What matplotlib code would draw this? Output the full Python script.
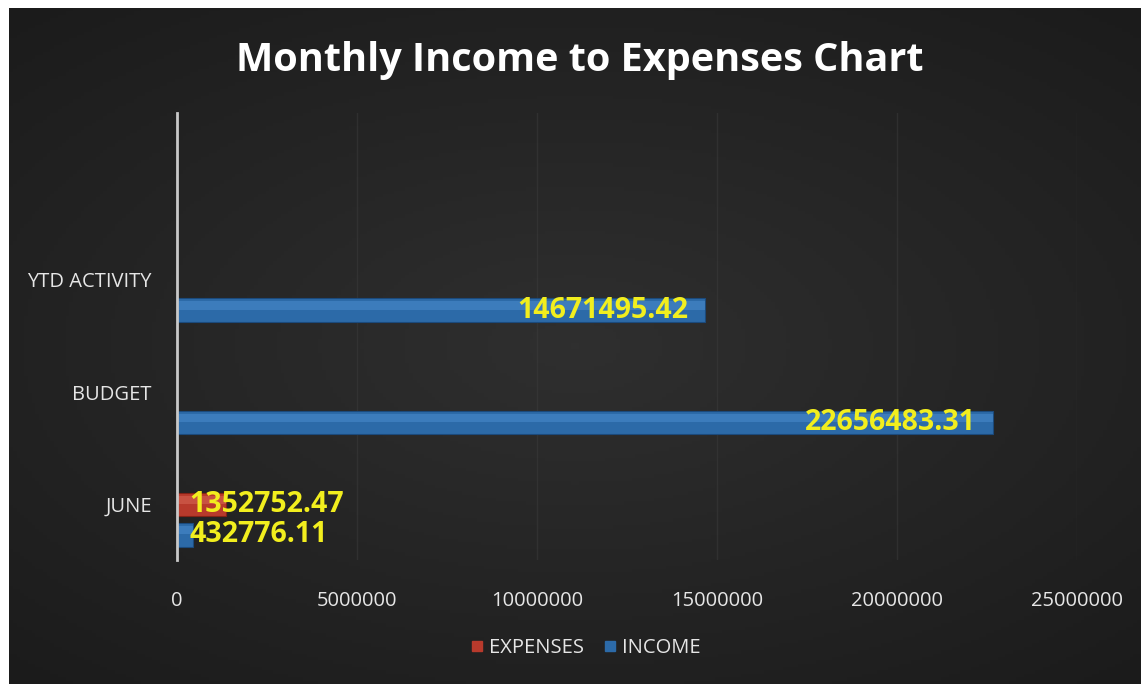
import numpy as np
import matplotlib
matplotlib.use("Agg")
import matplotlib.pyplot as plt
from matplotlib.lines import Line2D

categories = ["JUNE", "BUDGET", "YTD ACTIVITY"]
expenses = [1352752.47, 0, 0]
income = [432776.11, 22656483.31, 14671495.42]
xticks = [0, 5000000, 10000000, 15000000, 20000000, 25000000]
title = "Monthly Income to Expenses Chart"

FONT = ["Open Sans", "DejaVu Sans"]
plt.rcParams["font.family"] = FONT

fig = plt.figure(figsize=(11.41, 6.84), dpi=100, facecolor="white")

# dark background panel with soft radial vignette
bg = fig.add_axes([9/1141, 0, 1 - 9/1141, 1 - 8/684])
bg.set_axis_off()
yy, xx = np.mgrid[-1:1:200j, -1:1:300j]
r = np.sqrt((xx * 0.9) ** 2 + (yy * 1.0) ** 2)
grad = np.clip(1 - 0.45 * r, 0, 1)
bg.imshow(grad, cmap=matplotlib.colors.LinearSegmentedColormap.from_list(
    "bgc", ["#181818", "#2f2f2f"]), vmin=0.3, vmax=1.0, aspect="auto",
    extent=[0, 1, 0, 1])
bg.set_xlim(0, 1)
bg.set_ylim(0, 1)

ax = fig.add_axes([177/1141, 124/684, 900/1141, 447/684])
ax.patch.set_alpha(0)

pos = np.arange(len(categories))
off = 0.135
h = 0.21

inc_col = "#2c6aa8"
exp_col = "#b83a2c"

ax.barh(pos - off, income, height=h, color=inc_col, edgecolor="#1b4a7c", linewidth=0.8, zorder=3)
ax.barh(pos - off + h * 0.2, income, height=h * 0.35, color="#4d8fd0", alpha=0.5, linewidth=0, zorder=4)
ax.barh(pos + off, expenses, height=h, color=exp_col, edgecolor="#822216", linewidth=0.8, zorder=3)
ax.barh(pos + off + h * 0.2, expenses, height=h * 0.35, color="#d96a58", alpha=0.5, linewidth=0, zorder=4)

lab_kw = dict(color="#f2ee1e", fontsize=20.5, fontweight="bold", va="center", zorder=6)
for series, dy in ((income, -off), (expenses, off)):
    for p, v in zip(pos, series):
        if v <= 0:
            continue
        txt = f"{v:.2f}"
        if v > 5000000:
            ax.annotate(txt, (v, p + dy), xytext=(-12, 0), textcoords="offset points",
                        ha="right", **lab_kw)
        else:
            ax.annotate(txt, (0, p + dy), xytext=(9, 0), textcoords="offset points",
                        ha="left", **lab_kw)

ax.set_xlim(0, 25000000)
ax.set_ylim(-0.36, 3.62)
ax.set_xticks(xticks)
ax.set_xticklabels([str(t) for t in xticks])
ax.set_yticks(pos + off)
ax.set_yticklabels(categories)
ax.tick_params(axis="x", length=0, pad=22, labelsize=14.5, labelcolor="#e6e6e6")
ax.tick_params(axis="y", length=0, pad=18, labelsize=14.5, labelcolor="#e6e6e6")
ax.grid(axis="x", color="#3c3c3c", linewidth=1.0, alpha=0.5, zorder=0)
for s in ("top", "right", "bottom"):
    ax.spines[s].set_visible(False)
ax.spines["left"].set_color("#c8c8c8")
ax.spines["left"].set_linewidth(2)
ax.spines["left"].set_zorder(5)

fig.text(580/1141, 1 - 60/684, title, ha="center", va="center", color="white",
         fontsize=28.5, fontweight="bold")

handles = [Line2D([], [], marker="s", linestyle="none", markersize=7, color=exp_col, label="EXPENSES"),
           Line2D([], [], marker="s", linestyle="none", markersize=7, color=inc_col, label="INCOME")]
leg = fig.legend(handles=handles, loc="center", bbox_to_anchor=(584/1141, 1 - 648/684), ncol=2,
                 frameon=False, fontsize=14.5, handletextpad=0.1, columnspacing=0.8,
                 handlelength=1.0)
for t in leg.get_texts():
    t.set_color("#e6e6e6")

fig.savefig("out.png", dpi=100, facecolor=fig.get_facecolor())
